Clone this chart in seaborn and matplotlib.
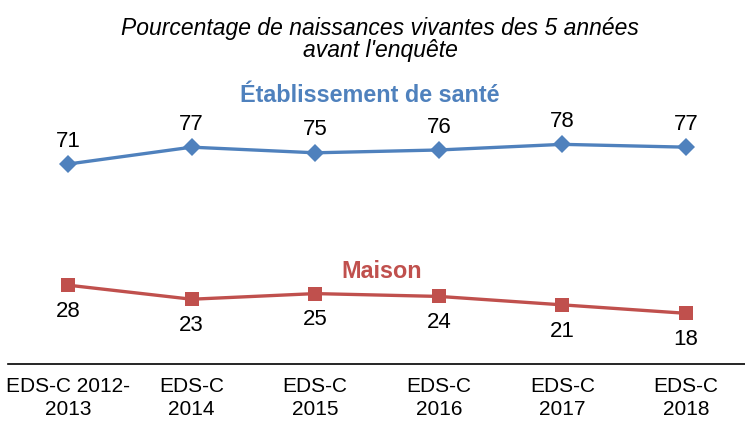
import matplotlib
matplotlib.use("Agg")
import matplotlib.pyplot as plt
import seaborn as sns
import pandas as pd

categories = ["EDS-C 2012-\n2013", "EDS-C\n2014", "EDS-C\n2015", "EDS-C\n2016", "EDS-C\n2017", "EDS-C\n2018"]
etablissement = [71, 77, 75, 76, 78, 77]
maison = [28, 23, 25, 24, 21, 18]

blue = "#4F81BD"
red = "#C0504D"

sns.set_theme(style="white")
plt.rcParams["font.family"] = ["Liberation Sans", "DejaVu Sans"]

df = pd.DataFrame({
    "x": list(range(len(categories))) * 2,
    "valeur": etablissement + maison,
    "lieu": ["Établissement de santé"] * len(categories) + ["Maison"] * len(categories),
})

fig = plt.figure(figsize=(7.45, 4.22), dpi=100)
ax = fig.add_axes([8 / 745, 1 - 364 / 422, 737 / 745, (364 - 82.4) / 422])

sns.lineplot(data=df, x="x", y="valeur", hue="lieu", style="lieu",
             palette={"Établissement de santé": blue, "Maison": red},
             markers={"Établissement de santé": "D", "Maison": "s"},
             dashes=False, linewidth=2.4, markersize=9.5, markeredgewidth=0,
             legend=False, ax=ax)

for i, v in enumerate(etablissement):
    ax.annotate(str(v), (i, v), xytext=(0, 16.5), textcoords="offset points",
                ha="center", va="center", fontsize=16, color="black")
for i, v in enumerate(maison):
    ax.annotate(str(v), (i, v), xytext=(0, -19), textcoords="offset points",
                ha="center", va="center", fontsize=16, color="black")

ax.set_xlim(-0.485, 5.477)
ax.set_ylim(0, 100)
ax.set_xticks(range(len(categories)))
ax.set_xticklabels(categories, fontsize=15, color="black", linespacing=1.3)
ax.tick_params(axis="x", length=0, pad=9)
ax.set_yticks([])
ax.set_xlabel("")
ax.set_ylabel("")
for side in ["top", "right", "left"]:
    ax.spines[side].set_visible(False)
ax.spines["bottom"].set_color("black")
ax.spines["bottom"].set_linewidth(1.2)

fig.text(380 / 745, 1 - 39.5 / 422, "Pourcentage de naissances vivantes des 5 années\navant l'enquête",
         ha="center", va="center", fontsize=16.5, style="italic", color="black", linespacing=0.98)
fig.text(370 / 745, 1 - 96 / 422, "Établissement de santé", ha="center", va="center",
         fontsize=16.8, fontweight="bold", color=blue)
fig.text(382 / 745, 1 - 272 / 422, "Maison", ha="center", va="center",
         fontsize=16.8, fontweight="bold", color=red)

fig.savefig("out.png", dpi=100)
